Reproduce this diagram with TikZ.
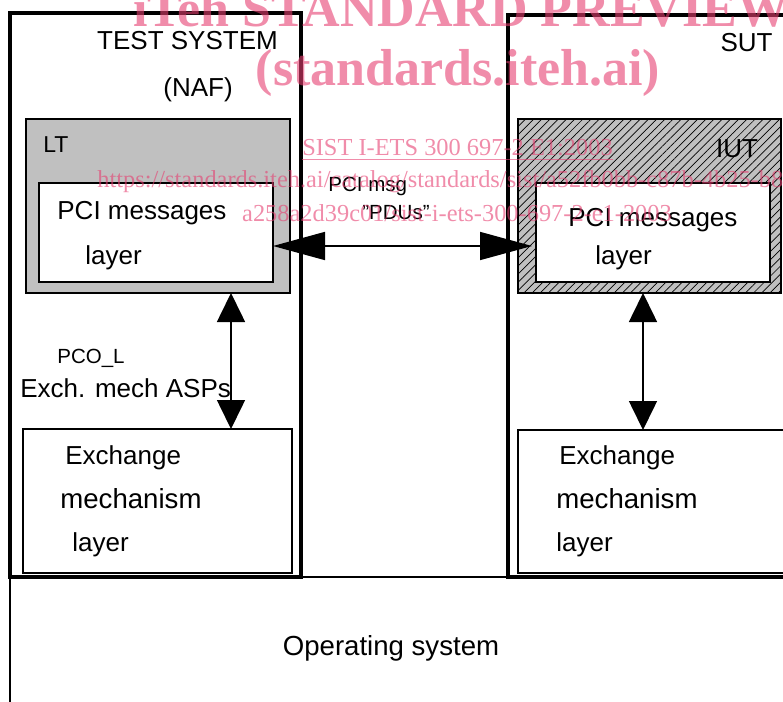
\documentclass[tikz,border=0pt]{standalone}
\usepackage{fontspec}
\setmainfont{Liberation Sans}
\newfontfamily\wmfont{Liberation Serif}
\usepackage{tikz}
\usetikzlibrary{arrows.meta, positioning, patterns.meta}
\definecolor{mydark}{RGB}{0,0,0}
\definecolor{mygray}{RGB}{192,192,192}
\definecolor{mypink}{RGB}{230,63,113}
\tikzset{
  pxsize/.style 2 args={minimum width=#1*0.5pt, minimum height=#2*0.5pt},
  sysbox/.style={rectangle, draw=mydark, line width=2pt, inner sep=0pt, outer sep=0pt},
  osbox/.style={rectangle, draw=mydark, line width=0.8pt, inner sep=0pt, outer sep=0pt},
  ltbox/.style={rectangle, draw=mydark, fill=mygray, line width=1pt, inner sep=0pt, outer sep=0pt},
  iutbox/.style={rectangle, draw=mydark, fill=mygray, line width=1pt, inner sep=0pt, outer sep=0pt,
    postaction={pattern={Lines[angle=45, distance=2.9pt, line width=0.35pt]}}},
  layerbox/.style={rectangle, draw=mydark, fill=white, line width=1.2pt, inner sep=0pt, outer sep=0pt},
  exchbox/.style={rectangle, draw=mydark, fill=white, line width=1pt, inner sep=0pt, outer sep=0pt},
  lbl/.style={inner sep=0pt, anchor=west, font=\fontsize{13}{15}\selectfont},
  widelbl/.style={lbl, font=\fontsize{13.8}{16}\selectfont},
  smalllbl/.style={lbl, font=\fontsize{10.25}{12}\selectfont},
  wm/.style={inner sep=0pt, text=mypink, text opacity=0.6, font=\wmfont\fontsize{12.2}{14}\selectfont},
  wmbig/.style={wm, font=\wmfont\bfseries\fontsize{26}{30}\selectfont}
}
\begin{document}
\begin{tikzpicture}[x=0.5pt, y=-0.5pt,
  pdu/.style={{Triangle[length=26pt, width=14pt]}-{Triangle[length=26pt, width=14pt]}, line width=0.8pt, color=mydark},
  asp/.style={{Triangle[length=14.5pt, width=14pt]}-{Triangle[length=14.5pt, width=14pt]}, line width=0.8pt, color=mydark}
]
  \useasboundingbox (0,0) rectangle (783,702);
  \clip (0,0) rectangle (783,702);
  \node[sysbox, pxsize={291}{564}] (tsys) at (155.5,295) {};
  \node[sysbox, pxsize={292}{562}] (sut) at (654,296) {};
  \node[osbox, pxsize={790}{160}] (os) at (405,657) {};
  \node[ltbox, pxsize={264}{174}] (lt) at (158,206) {};
  \node[iutbox, pxsize={263}{174}] (iut) at (649.5,206) {};
  \node[layerbox, pxsize={234}{99}] (ltpci) at (156,232.5) {};
  \node[layerbox, pxsize={234}{99}] (iutpci) at (653,232.5) {};
  \node[exchbox, pxsize={269}{144}] (ltexch) at (157.5,501) {};
  \node[exchbox, pxsize={282}{143}] (iutexch) at (659,501.5) {};

  \coordinate (ltaxis) at (231,0);
  \coordinate (iutaxis) at (643,0);
  \draw[pdu] ([yshift=-6.75pt]ltpci.east) -- ([yshift=-6.75pt, xshift=-2pt]iutpci.west);
  \draw[asp] (lt.south -| ltaxis) -- (ltexch.north -| ltaxis);
  \draw[asp] (iut.south -| iutaxis) -- (iutexch.north -| iutaxis);

  \node[lbl, anchor=center] (tstitle) at (187.5,41) {TEST SYSTEM};
  \node[lbl, anchor=center] (naf) at (198,90) {(NAF)};
  \node[lbl, anchor=center] (suttitle) at (746.5,43) {SUT};
  \node[lbl, font=\fontsize{11.5}{14}\selectfont] (ltname) at (43,145) {LT};
  \node[lbl, anchor=center] (iutname) at (737,149) {IUT};
  \node[lbl] (ltpcia) at (57,213) {PCI messages};
  \node[lbl] (ltpcib) at (85,258) {layer};
  \node[lbl] (iutpcia) at (568,220) {PCI messages};
  \node[lbl] (iutpcib) at (595,258) {layer};
  \node[smalllbl] (pcimsg) at (328,186) {PCI msg};
  \node[smalllbl] (pdus) at (362,213) {"PDUs"};
  \node[smalllbl] (pcol) at (57,358) {PCO\_L};
  \node[lbl] (asps) at (20,388) {Exch. mech ASPs};
  \node[lbl] (ltexcha) at (65,458) {Exchange};
  \node[widelbl] (ltexchb) at (60,499) {mechanism};
  \node[lbl] (ltexchc) at (72,545) {layer};
  \node[lbl] (iutexcha) at (559,458) {Exchange};
  \node[widelbl] (iutexchb) at (556,499) {mechanism};
  \node[lbl] (iutexchc) at (556,545) {layer};
  \node[widelbl, anchor=center] (osname) at (391,648) {Operating system};

  \node[wmbig, anchor=base west] (wmtitle) at (133,26) {iTeh STANDARD PREVIEW};
  \node[wmbig] (wmsite) at (458,73) {(standards.iteh.ai)};
  \node[wm] (wmsist) at (457.5,150) {\underline{SIST I-ETS 300 697-2 E1:2003}};
  \node[wm, anchor=west] (wmurla) at (97,182) {https://standards.iteh.ai/catalog/standards/sist/a52fb0bb-c87b-4b25-b8a2-};
  \node[wm] (wmurlb) at (457,213) {a258a2d39c01/sist-i-ets-300-697-2-e1-2003};
\end{tikzpicture}
\end{document}
